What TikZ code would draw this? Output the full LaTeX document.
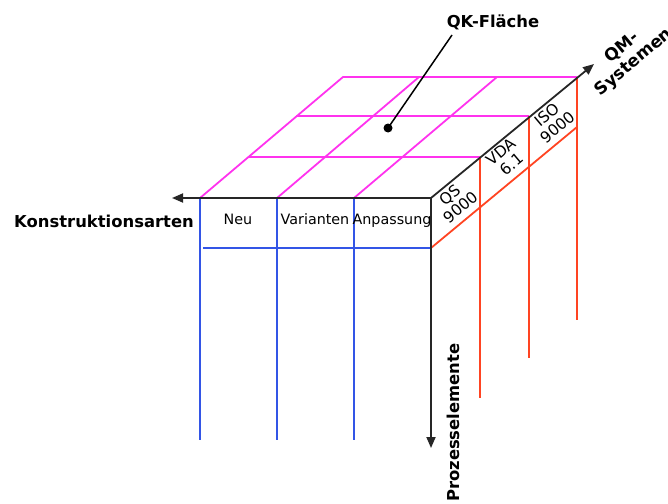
\documentclass[tikz,border=0pt]{standalone}
\usepackage{fontspec}
\setmainfont{DejaVu Sans}
\usetikzlibrary{arrows.meta}
\definecolor{gridpink}{RGB}{255,51,238}
\definecolor{faceblue}{RGB}{51,85,230}
\definecolor{facered}{RGB}{255,68,34}

\begin{document}
\begin{tikzpicture}[x=1pt,y=-1pt,
  axis/.style={draw=black!85, line width=1.8pt, -{Triangle[length=11pt,width=9pt]}},
  pinkline/.style={draw=gridpink, line width=1.8pt},
  blueline/.style={draw=faceblue, line width=1.8pt},
  redline/.style={draw=facered, line width=1.8pt},
  colhead/.style={font=\fontsize{14.3}{16}\selectfont, inner sep=0pt, anchor=base},
  facelabel/.style={font=\fontsize{15.5}{16.5}\selectfont, align=center, rotate=40, inner sep=0pt},
  axislabel/.style={font=\bfseries\fontsize{16.4}{19}\selectfont, inner sep=0pt}]

\useasboundingbox (0,0) rectangle (668,503);

% front edge of the cube (top face, near side)
\coordinate (F0) at (200,198);
\coordinate (F1) at (277,198);
\coordinate (F2) at (354,198);
\coordinate (F3) at (431,198);
% back edge of the top face
\coordinate (B0) at (343,77);
\coordinate (B1) at (419,77);
\coordinate (B2) at (497,77);
\coordinate (B3) at (577,77);
% intermediate depth lines of the top face
\coordinate (M1l) at (248,157);
\coordinate (M1r) at (480,157);
\coordinate (M2l) at (296,116);
\coordinate (M2r) at (529,116);

% top face grid (QK-Fläche)
\draw[pinkline] (F0) -- (B0) -- (B3);
\draw[pinkline] (F1) -- (B1);
\draw[pinkline] (F2) -- (B2);
\draw[pinkline] (M1l) -- (M1r);
\draw[pinkline] (M2l) -- (M2r);

% front face (Konstruktionsarten)
\coordinate (D0) at (200,440);
\coordinate (D1) at (277,440);
\coordinate (D2) at (354,440);
\coordinate (H0) at (203,248);
\coordinate (H1) at (431,248);
\draw[blueline] (F0) -- (D0);
\draw[blueline] (F1) -- (D1);
\draw[blueline] (F2) -- (D2);
\draw[blueline] (H0) -- (H1);

% side face (QM-Systeme)
\coordinate (R1) at (480,398);
\coordinate (R2) at (529,358);
\coordinate (R3) at (577,320);
\coordinate (S1) at (577,127);
\draw[redline] (M1r) -- (R1);
\draw[redline] (M2r) -- (R2);
\draw[redline] (B3) -- (R3);
\draw[redline] (H1) -- (S1);

% axes
\coordinate (AK) at (172,198);
\coordinate (AP) at (431,448);
\coordinate (AQ) at (594,64);
\draw[axis] (F3) -- (AK);
\draw[axis] (F3) -- (AP);
\draw[axis] (F3) -- (AQ);

% column headings
\node[colhead] (neu) at (238,224) {Neu};
\node[colhead] (var) at (315,224) {Varianten};
\node[colhead] (anp) at (392,224) {Anpassung};

% side face labels
\node[facelabel] (qs)  at (455,201) {QS\\9000};
\node[facelabel] (vda) at (506,158) {VDA\\6.1};
\node[facelabel] (iso) at (552,121) {ISO\\9000};

% axis labels
\node[axislabel, anchor=base east] (konst) at (194,227) {Konstruktionsarten};
\node[axislabel, rotate=90, anchor=base west] (proz) at (459,502) {Prozesselemente};
\node[axislabel, font=\bfseries\fontsize{17}{19}\selectfont, rotate=40, align=center] (qm) at (628,55) {QM-\\Systemen};

% QK-Fläche pointer
\node[axislabel, anchor=base] (qk) at (493,28) {QK-Fläche};
\coordinate (dot) at (388,128);
\draw[line width=1.5pt] (452,35) -- (dot);
\fill (dot) circle (4.5);
\end{tikzpicture}
\end{document}
